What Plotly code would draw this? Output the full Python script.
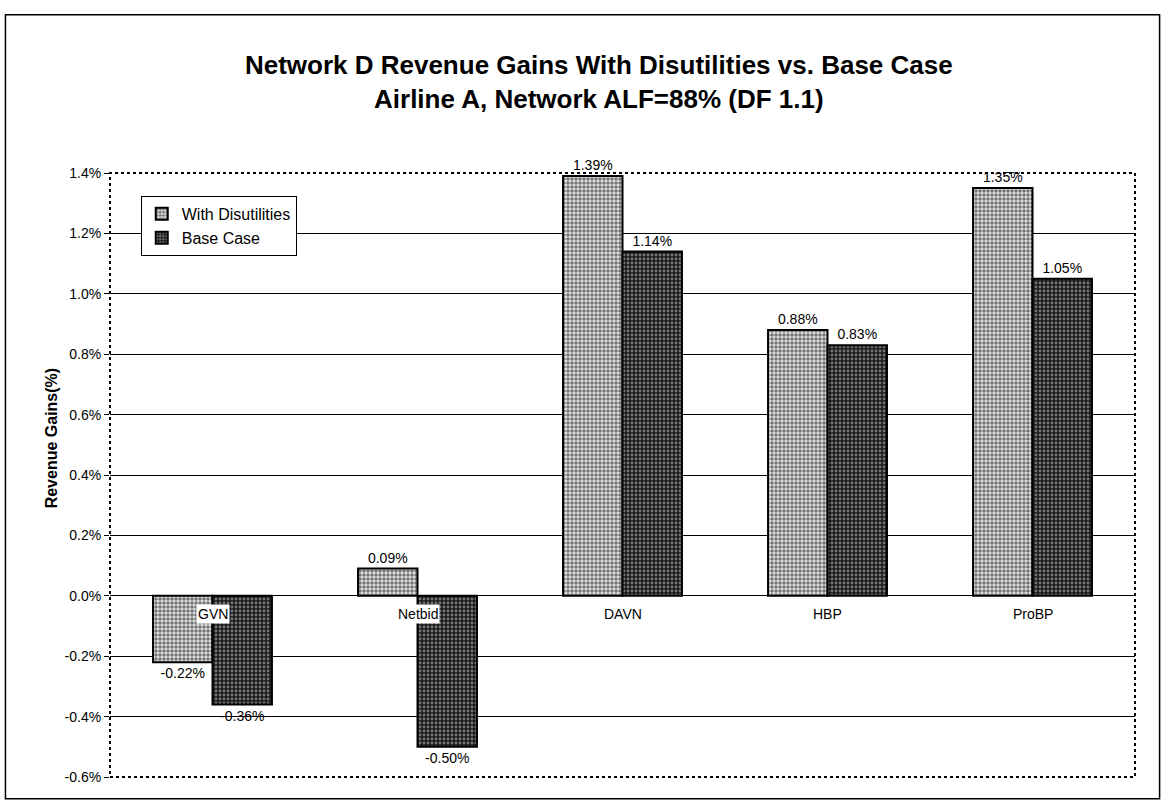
import plotly.graph_objects as go

categories = ["GVN", "Netbid", "DAVN", "HBP", "ProBP"]
with_disutilities = [-0.22, 0.09, 1.39, 0.88, 1.35]
base_case = [-0.36, -0.50, 1.14, 0.83, 1.05]
y_ticks = [-0.6, -0.4, -0.2, 0.0, 0.2, 0.4, 0.6, 0.8, 1.0, 1.2, 1.4]
y_grid = [-0.4, -0.2, 0.0, 0.2, 0.4, 0.6, 0.8, 1.0, 1.2]

FONT = "Liberation Sans, Arial, sans-serif"

fig = go.Figure()
fig.add_trace(go.Bar(
    name="With Disutilities", x=categories, y=with_disutilities,
    marker=dict(color="#a0a0a0", line=dict(color="black", width=2),
                pattern=dict(shape=".", fgcolor="#000000", bgcolor="#e6e6e6", size=4, solidity=0.6)),
    text=[f"{v:.2f}%" for v in with_disutilities], textposition="outside",
    textfont=dict(size=14, color="black", family=FONT), cliponaxis=False,
))
fig.add_trace(go.Bar(
    name="Base Case", x=categories, y=base_case,
    marker=dict(color="#333333", line=dict(color="black", width=2),
                pattern=dict(shape=".", fgcolor="#d0d0d0", bgcolor="#1a1a1a", size=4, solidity=0.4)),
    text=[f"{v:.2f}%" for v in base_case], textposition="outside",
    textfont=dict(size=14, color="black", family=FONT), cliponaxis=False,
))

# invisible trace to activate the grid axis
fig.add_trace(go.Scatter(x=categories, y=[None]*len(categories), yaxis="y2", showlegend=False, hoverinfo="skip"))

for c in categories:
    fig.add_annotation(x=c, y=0, xref="x", yref="y", text=c, showarrow=False,
                       yanchor="top", yshift=-8, bgcolor="white", borderpad=1,
                       font=dict(size=14, color="black", family=FONT))

fig.add_annotation(text="<b>Revenue Gains(%)</b>", textangle=-90, x=-0.057, y=0.56,
                   xref="paper", yref="paper", xanchor="center", yanchor="middle", showarrow=False,
                   font=dict(size=16, color="black", family=FONT))

# dotted plot border
fig.add_shape(type="rect", xref="paper", yref="paper", x0=0, x1=1, y0=0, y1=1,
              line=dict(color="black", width=2, dash="dot"), layer="above")
# outer chart frame
fig.add_shape(type="rect", xref="paper", yref="paper", x0=-0.102, x1=1.024, y0=-0.036, y1=1.262,
              line=dict(color="black", width=1.5), layer="above")

fig.update_layout(
    width=1165, height=805,
    margin=dict(l=110, r=30, t=173, b=28),
    paper_bgcolor="white", plot_bgcolor="white",
    font=dict(family=FONT, color="black"),
    title=dict(text="<b>Network D Revenue Gains With Disutilities vs. Base Case<br>Airline A, Network ALF=88% (DF 1.1)</b>",
               x=0.514, xref="container", xanchor="center", y=0.908, yref="container", yanchor="top",
               font=dict(size=26, color="black", family=FONT)),
    barmode="group", bargap=0.42, bargroupgap=0.0,
    xaxis=dict(showticklabels=False, showgrid=False, showline=False, zeroline=False, ticks=""),
    yaxis=dict(range=[-0.6, 1.4], tickvals=y_ticks, ticktext=[f"{v:.1f}%" for v in y_ticks],
               showgrid=False, zeroline=False, ticks="outside", ticklen=5, tickcolor="black",
               tickfont=dict(size=14, family=FONT, color="black"), showline=False),
    yaxis2=dict(range=[-0.6, 1.4], overlaying="y", tickvals=y_grid, showticklabels=False,
                showgrid=True, gridcolor="black", gridwidth=1, zeroline=False, ticks=""),
    legend=dict(x=0.03, y=0.962, xanchor="left", yanchor="top", bgcolor="white",
                bordercolor="black", borderwidth=1, font=dict(size=16, family=FONT, color="black"),
                tracegroupgap=0, itemsizing="constant", itemwidth=30),
    showlegend=True,
)

fig.write_html("out.html")
